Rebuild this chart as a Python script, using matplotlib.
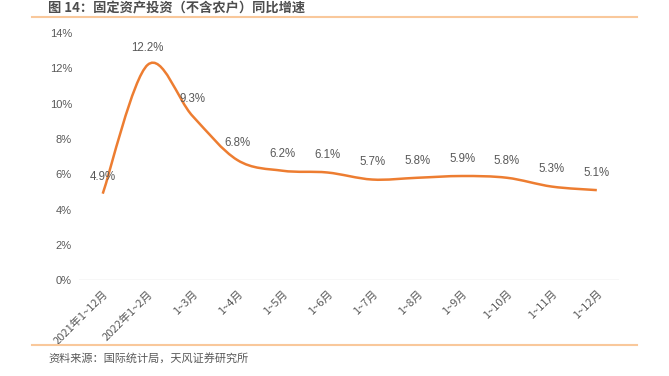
import numpy as np
import matplotlib.pyplot as plt
from matplotlib.path import Path
from matplotlib.patches import PathPatch
from matplotlib.lines import Line2D
from matplotlib.ticker import FuncFormatter

plt.rcParams['font.family'] = ['Noto Sans CJK SC', 'DejaVu Sans']

# ==============================
# Data
# ==============================
categories = ['2021年1~12月', '2022年1~2月', '1~3月', '1~4月', '1~5月', '1~6月',
              '1~7月', '1~8月', '1~9月', '1~10月', '1~11月', '1~12月']
growth = [4.9, 12.2, 9.3, 6.8, 6.2, 6.1, 5.7, 5.8, 5.9, 5.8, 5.3, 5.1]

title = '图 14：固定资产投资（不含农户）同比增速'
source = '资料来源：国际统计局，天风证券研究所'

line_color = '#ED7D31'
frame_color = '#F9C89B'
text_color = '#595959'

# ==============================
# Figure
# ==============================
fig = plt.figure(figsize=(6.69, 3.76), dpi=100)
ax = fig.add_axes([0.118, 0.255, 0.807, 0.657])

x = np.arange(len(growth))
y = np.array(growth, dtype=float)

# smooth curve through the points (Catmull-Rom -> cubic Bezier)
verts = [(x[0], y[0])]
codes = [Path.MOVETO]
t = 1 / 6
for i in range(len(x) - 1):
    p0 = (x[max(i - 1, 0)], y[max(i - 1, 0)])
    p1 = (x[i], y[i])
    p2 = (x[i + 1], y[i + 1])
    p3 = (x[min(i + 2, len(x) - 1)], y[min(i + 2, len(x) - 1)])
    c1 = (p1[0] + (p2[0] - p0[0]) * t, p1[1] + (p2[1] - p0[1]) * t)
    c2 = (p2[0] - (p3[0] - p1[0]) * t, p2[1] - (p3[1] - p1[1]) * t)
    verts += [c1, c2, p2]
    codes += [Path.CURVE4] * 3
ax.add_patch(PathPatch(Path(verts, codes), facecolor='none',
                       edgecolor=line_color, linewidth=1.8, zorder=3))

for xi, yi in zip(x, y):
    ax.annotate(f'{yi:.1f}%', (xi, yi), xytext=(0, 8), textcoords='offset points',
                ha='center', va='bottom', fontsize=8.3, color=text_color,
                family=['Liberation Sans', 'DejaVu Sans'])

ax.set_xlim(-0.53, 11.49)
ax.set_ylim(0, 14)
ax.set_yticks(np.arange(0, 15, 2))
ax.yaxis.set_major_formatter(FuncFormatter(lambda v, p: f'{v:.0f}%'))
ax.set_xticks(x)
ax.set_xticklabels(categories, rotation=45, ha='right', rotation_mode='anchor')
ax.tick_params(axis='both', length=0, labelsize=8, colors=text_color)
ax.tick_params(axis='y', pad=5)
ax.tick_params(axis='x', pad=6)
for lab in ax.get_yticklabels():
    lab.set_family(['Liberation Sans', 'DejaVu Sans'])
for s in ax.spines.values():
    s.set_visible(False)
ax.axhline(0, color='#D9D9D9', linewidth=1, zorder=1)

# title and source with the orange rules
fig.text(0.072, 0.995, title, fontsize=9.5, fontweight='bold', color='#4D4D4D',
         ha='left', va='top')
fig.add_artist(Line2D([0.048, 0.952], [0.955, 0.955], color=frame_color, linewidth=1.5))
fig.add_artist(Line2D([0.048, 0.952], [0.083, 0.083], color=frame_color, linewidth=1.5))
fig.text(0.072, 0.047, source, fontsize=8, color=text_color, ha='left', va='center')

fig.savefig('out.png', dpi=100)
